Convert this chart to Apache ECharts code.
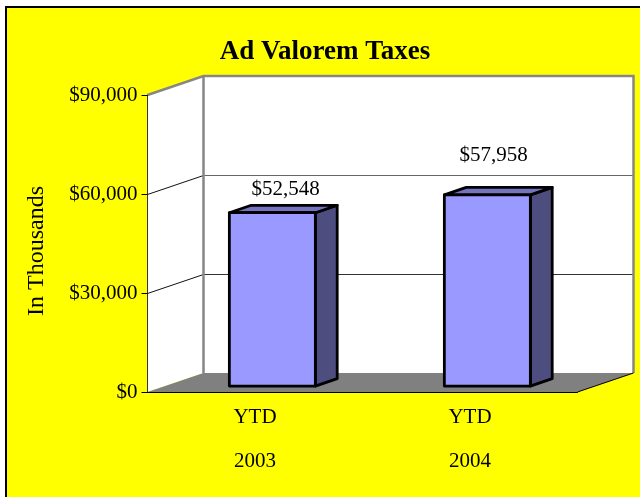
<!DOCTYPE html>
<html>
<head>
<meta charset="utf-8">
<title>Ad Valorem Taxes</title>
<script src="https://cdn.jsdelivr.net/npm/echarts@6/dist/echarts.min.js"></script>
<style>
html, body { margin: 0; padding: 0; background: #fff; }
#frame { position: absolute; left: 5px; top: 6px; width: 635px; height: 491px; background: #ffff00; border-left: 2px solid #000; border-top: 2px solid #000; box-sizing: border-box; }
#main { position: absolute; left: 0; top: 0; width: 640px; height: 497px; }
</style>
</head>
<body>
<div id="frame"></div>
<div id="main"></div>
<script>
// data
var categories = ['YTD\n\n2003', 'YTD\n\n2004'];
var taxes = [52548, 57958];
var axisMax = 90000;
var axisStep = 30000;
var titleText = 'Ad Valorem Taxes';
var yName = 'In Thousands';

// fake 3d look
var depthX = 56, depthY = 19;
var barFront = 0.31, barDepth = 0.39, barWidth = 0.4;
var labelShift = [[30.5, -29.5], [23.5, -45.5]];
var serif = '"Liberation Serif", "Times New Roman", serif';

var myChart = echarts.init(document.getElementById('main'));

function money(v) {
    return '$' + echarts.format.addCommas(v);
}

// walls, floor and gridlines
function renderWalls(params, api) {
    var left = params.coordSys.x, right = left + params.coordSys.width;
    var floorY = api.coord([0, 0])[1], topY = api.coord([0, axisMax])[1];
    var kids = [];
    kids.push({ type: 'polygon', shape: { points: [[left, floorY], [left, topY], [left + depthX, topY - depthY], [left + depthX, floorY - depthY]] }, style: { fill: '#fff' } });
    kids.push({ type: 'rect', shape: { x: left + depthX, y: topY - depthY, width: right - left, height: floorY - topY }, style: { fill: '#fff' } });
    kids.push({ type: 'polygon', shape: { points: [[left, floorY], [left + depthX, floorY - depthY], [right + depthX, floorY - depthY], [right, floorY]] }, style: { fill: '#808080' } });
    for (var v = axisStep; v < axisMax; v += axisStep) {
        var y = Math.round(api.coord([0, v])[1]) + 0.5;
        kids.push({ type: 'line', shape: { x1: left, y1: y, x2: left + depthX, y2: y - depthY }, style: { stroke: '#111', lineWidth: 1 } });
        kids.push({ type: 'line', shape: { x1: left + depthX, y1: y - depthY, x2: right + depthX, y2: y - depthY }, style: { stroke: v > axisStep ? '#666' : '#333', lineWidth: 1 } });
    }
    kids.push({ type: 'polyline', shape: { points: [[left, topY], [left + depthX, topY - depthY], [right + depthX, topY - depthY], [right + depthX, floorY - depthY]] }, style: { fill: 'none', stroke: '#868686', lineWidth: 2.5 } });
    kids.push({ type: 'line', shape: { x1: left + depthX, y1: topY - depthY, x2: left + depthX, y2: floorY - depthY }, style: { stroke: '#868686', lineWidth: 2.5 } });
    kids.push({ type: 'line', shape: { x1: right, y1: floorY, x2: right + depthX, y2: floorY - depthY }, style: { stroke: '#000', lineWidth: 1 } });
    return { type: 'group', children: kids };
}

// one box per value
function renderBar(params, api) {
    var i = api.value(0);
    var base = api.coord([i, 0]);
    var top = api.coord([i, api.value(1)]);
    var band = api.size([1, 0])[0];
    var w = band * barWidth;
    var x0 = base[0] - w / 2 + depthX * barFront;
    var x1 = x0 + w;
    var yb = base[1] - depthY * barFront;
    var yt = top[1] - depthY * barFront;
    var dx = depthX * barDepth, dy = depthY * barDepth;
    var line = { stroke: '#000', lineWidth: 2.8, lineJoin: 'round' };
    return {
        type: 'group',
        children: [
            { type: 'polygon', shape: { points: [[x1, yb], [x1 + dx, yb - dy], [x1 + dx, yt - dy], [x1, yt]] }, style: Object.assign({ fill: '#4d4d80' }, line) },
            { type: 'polygon', shape: { points: [[x0, yt], [x0 + dx, yt - dy], [x1 + dx, yt - dy], [x1, yt]] }, style: Object.assign({ fill: '#7373bf' }, line) },
            { type: 'rect', shape: { x: x0, y: yt, width: w, height: yb - yt }, style: Object.assign({ fill: '#9999ff' }, line) },
            {
                type: 'text',
                x: base[0] + labelShift[i][0],
                y: top[1] + labelShift[i][1],
                style: { text: money(api.value(1)), font: '21px ' + serif, fill: '#000', align: 'center', verticalAlign: 'middle' }
            }
        ]
    };
}

var option = {
    animation: false,
    backgroundColor: 'transparent',
    title: {
        text: titleText,
        left: 320,
        top: 34,
        textAlign: 'center',
        textStyle: { fontFamily: serif, fontSize: 27, fontWeight: 'bold', color: '#000' }
    },
    grid: { left: 147.5, top: 95, width: 430, height: 297 },
    xAxis: {
        type: 'category',
        data: categories,
        z: 5,
        axisLine: { lineStyle: { color: '#000', width: 1 } },
        axisTick: { show: false },
        axisLabel: { color: '#000', fontFamily: serif, fontSize: 21, lineHeight: 22, margin: 14 }
    },
    yAxis: {
        type: 'value',
        min: 0,
        max: axisMax,
        interval: axisStep,
        z: 5,
        name: yName,
        nameLocation: 'middle',
        nameGap: 99,
        nameTextStyle: { color: '#000', fontFamily: serif, fontSize: 24, padding: [0, 15, 0, 0] },
        axisLine: { show: true, lineStyle: { color: '#333', width: 1 } },
        axisTick: { show: true, length: 6, lineStyle: { color: '#000' } },
        axisLabel: { color: '#000', fontFamily: serif, fontSize: 21, margin: 10, padding: [3, 0, 0, 0], formatter: money },
        splitLine: { show: false }
    },
    series: [
        { type: 'custom', z: 1, silent: true, renderItem: renderWalls, data: [[0, 0]], encode: { x: 0, y: 1 } },
        { type: 'custom', z: 3, renderItem: renderBar, data: taxes.map(function (v, i) { return [i, v]; }), encode: { x: 0, y: 1 } }
    ]
};
myChart.setOption(option);
</script>
</body>
</html>
